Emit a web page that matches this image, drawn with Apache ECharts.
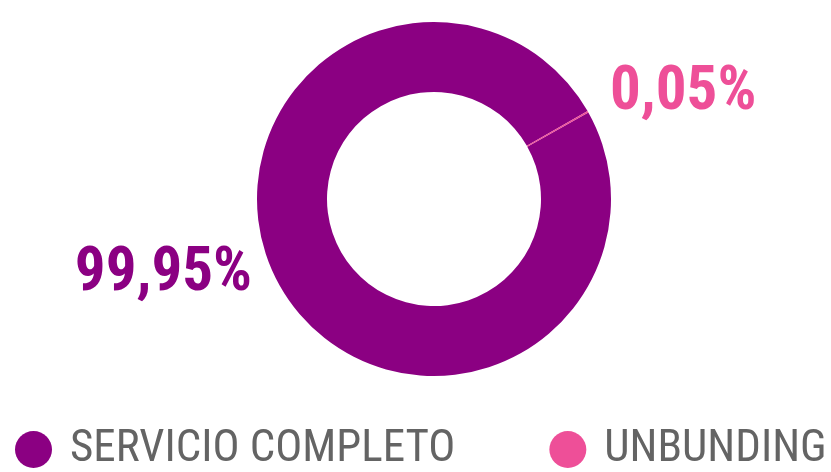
<!DOCTYPE html>
<html>
<head>
<meta charset="utf-8">
<title>Servicio completo vs unbunding</title>
<script src="https://cdn.jsdelivr.net/npm/echarts@6/dist/echarts.min.js"></script>
<style>
  html, body { margin: 0; padding: 0; background: #fff; }
  #chart { width: 831px; height: 472px; }
</style>
</head>
<body>
<div id="chart"></div>
<script>
// datos
var categories = ['SERVICIO COMPLETO', 'UNBUNDING']
var shares = [99.95, 0.05]
var colors = ['#8b0082', '#ee4f98']

var FONT = "'Roboto Condensed', 'Liberation Sans Narrow', 'DejaVu Sans Condensed', Roboto, sans-serif"

var chart = echarts.init(document.getElementById('chart'))

chart.setOption({
    color: colors,
    animation: false,
    legend: {
        data: categories,
        top: 427,
        left: 15,
        width: 816,
        padding: 0,
        icon: 'circle',
        itemWidth: 37,
        itemHeight: 37,
        itemGap: 94,
        textStyle: {
            fontFamily: FONT,
            fontSize: 45,
            color: '#646464',
            padding: [0, 0, 0, 13]
        }
    },
    series: [
        {
            type: 'pie',
            center: [434, 199],
            radius: [107, 177],
            startAngle: 29.3,
            minAngle: 0.5, // la porción rosa es casi invisible
            data: categories.map(function(name, i) {
                return { name: name, value: shares[i] }
            }),
            label: {
                show: true,
                position: 'outside',
                fontFamily: FONT,
                fontWeight: 'bold',
                fontSize: 61,
                color: 'inherit',
                formatter: function(p) {
                    return p.value.toFixed(2).replace('.', ',') + '%'
                }
            },
            labelLine: { show: false },
            // etiquetas fijas como en el original
            labelLayout: function(params) {
                if (params.dataIndex === 0) {
                    return { x: 252, y: 275, align: 'right', verticalAlign: 'middle' }
                }
                return { x: 610, y: 94, align: 'left', verticalAlign: 'middle' }
            },
            emphasis: { disabled: true }
        }
    ]
})
</script>
</body>
</html>
